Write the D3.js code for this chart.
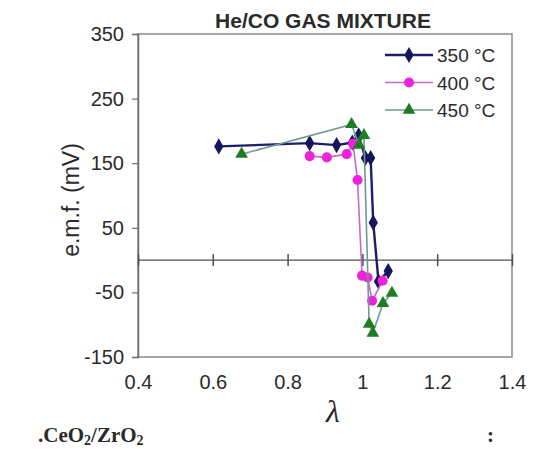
<!DOCTYPE html>
<html>
<head>
<meta charset="utf-8">
<script src="https://cdn.jsdelivr.net/npm/d3@7"></script>
<style>
  body { margin: 0; background: #fff; }
  svg { display: block; }
  text { font-family: "Liberation Sans", Arial, sans-serif; fill: #2a2a2a; }
</style>
</head>
<body>
<div id="graph_area"></div>
<script>
// Data
const lambda350 = [0.616, 0.859, 0.931, 0.973, 0.990, 1.008, 1.022, 1.029, 1.043, 1.069];
const emf350 = [176, 181, 178, 182, 193, 158, 158, 58, -33, -17];
const lambda400 = [0.859, 0.905, 0.958, 0.975, 0.987, 0.999, 1.014, 1.026, 1.054];
const emf400 = [161, 159, 164, 180, 124, -24, -27, -63, -32];
const lambda450 = [0.677, 0.971, 0.991, 1.004, 1.018, 1.028, 1.055, 1.079];
const emf450 = [164, 210, 178, 193, -99, -113, -67, -51];
const seriesNames = ['350 °C', '400 °C', '450 °C'];
const xTicks = [0.4, 0.6, 0.8, 1, 1.2, 1.4];
const yTicks = [-150, -50, 50, 150, 250, 350];

// Draw area values
const margin = {
  top: 34,
  left: 138,
};
const width = 374;
const height = 323;

const svg = d3.select('#graph_area')
  .append('svg')
    .attr('width', 534)
    .attr('height', 449);
const g = svg.append('g')
  .attr('transform', `translate(${margin.left},${margin.top})`);

const x = d3.scaleLinear().domain([0.4, 1.4]).range([0, width]);
const y = d3.scaleLinear().domain([-150, 350]).range([height, 0]);

// Plot frame
g.append('rect')
  .attr('width', width)
  .attr('height', height)
  .attr('fill', 'none')
  .attr('stroke', '#8a8a8a')
  .attr('stroke-width', 1.5);

// Y axis (plain hyphen for negatives, as in the picture)
const yAxis = g.append('g')
  .call(d3.axisLeft(y).tickValues(yTicks).tickSize(6).tickPadding(8)
    .tickFormat(d => String(d)));
yAxis.select('.domain').attr('stroke', '#707070').attr('stroke-width', 1.5);
yAxis.selectAll('.tick line').attr('stroke', '#707070').attr('stroke-width', 1.2);
yAxis.selectAll('.tick text')
  .attr('font-size', 20)
  .attr('fill', '#2a2a2a')
  .style('font-family', '"Liberation Sans", Arial, sans-serif');

// Zero line with cross ticks
g.append('line')
  .attr('x1', 0).attr('x2', width)
  .attr('y1', y(0)).attr('y2', y(0))
  .attr('stroke', '#505050')
  .attr('stroke-width', 1.3);
const zeroAxis = g.append('g')
  .attr('transform', `translate(0,${y(0) - 6})`)
  .call(d3.axisBottom(x).tickValues(xTicks).tickSize(12).tickFormat(''));
zeroAxis.select('.domain').remove();
zeroAxis.selectAll('.tick line').attr('stroke', '#505050').attr('stroke-width', 1.5);

// X tick labels at the bottom
const xAxis = g.append('g')
  .attr('transform', `translate(0,${height})`)
  .call(d3.axisBottom(x).tickValues(xTicks).tickSize(0).tickPadding(18)
    .tickFormat(d => String(d)));
xAxis.select('.domain').remove();
xAxis.selectAll('.tick text')
  .attr('font-size', 20)
  .attr('fill', '#2a2a2a')
  .style('font-family', '"Liberation Sans", Arial, sans-serif');

// Series
const series = [
  { name: seriesNames[0], xs: lambda350, ys: emf350, line: '#1d1d6e', lw: 2.4, fill: '#15155c', shape: d3.symbolDiamond, size: 75 },
  { name: seriesNames[1], xs: lambda400, ys: emf400, line: '#c46ac8', lw: 1.6, fill: '#ee22dd', shape: d3.symbolCircle, size: 80 },
  { name: seriesNames[2], xs: lambda450, ys: emf450, line: '#6f9890', lw: 1.6, fill: '#1e7d22', shape: d3.symbolTriangle, size: 70 },
];

const line = d3.line()
  .x(d => x(d[0]))
  .y(d => y(d[1]));

series.forEach(s => {
  const pts = s.xs.map((v, i) => [v, s.ys[i]]);
  g.append('path')
    .datum(pts)
    .attr('fill', 'none')
    .attr('stroke', s.line)
    .attr('stroke-width', s.lw)
    .attr('d', line);
  g.selectAll(null)
    .data(pts)
    .enter()
    .append('path')
      .attr('transform', d => `translate(${x(d[0])},${y(d[1])})`)
      .attr('d', d3.symbol().type(s.shape).size(s.size))
      .attr('fill', s.fill);
});

// Legend
const legend = svg.append('g').attr('transform', 'translate(385,55)');
series.forEach((s, i) => {
  const row = legend.append('g').attr('transform', `translate(0,${i * 27.5})`);
  row.append('line')
    .attr('x1', 0).attr('x2', 48)
    .attr('stroke', s.line)
    .attr('stroke-width', s.lw);
  row.append('path')
    .attr('transform', 'translate(24,0)')
    .attr('d', d3.symbol().type(s.shape).size(s.size))
    .attr('fill', s.fill);
  row.append('text')
    .attr('x', 52)
    .attr('y', 7)
    .attr('font-size', 19)
    .text(s.name);
});

// Title
svg.append('text')
  .attr('x', 323)
  .attr('y', 28)
  .attr('text-anchor', 'middle')
  .attr('font-size', 21)
  .attr('font-weight', 'bold')
  .text('He/CO GAS MIXTURE');

// Y label
svg.append('text')
  .attr('transform', 'translate(79,200) rotate(-90)')
  .attr('text-anchor', 'middle')
  .attr('font-size', 23)
  .text('e.m.f. (mV)');

// X label
svg.append('text')
  .attr('x', 333)
  .attr('y', 422)
  .attr('text-anchor', 'middle')
  .attr('font-size', 32)
  .attr('font-style', 'italic')
  .style('font-family', '"Liberation Serif", "Times New Roman", serif')
  .text('λ');

// Caption line under the chart
const cap = svg.append('text')
  .attr('x', 38)
  .attr('y', 442)
  .attr('font-size', 21)
  .attr('font-weight', 'bold')
  .style('font-family', '"Liberation Serif", "Times New Roman", serif')
  .attr('fill', '#000');
cap.append('tspan').text('.CeO');
cap.append('tspan').attr('font-size', 14).attr('dy', 3).text('2');
cap.append('tspan').attr('dy', -3).text('/ZrO');
cap.append('tspan').attr('font-size', 14).attr('dy', 3).text('2');
svg.append('text')
  .attr('x', 487)
  .attr('y', 442)
  .attr('font-size', 21)
  .attr('font-weight', 'bold')
  .style('font-family', '"Liberation Serif", "Times New Roman", serif')
  .attr('fill', '#000')
  .text(':');
</script>
</body>
</html>
